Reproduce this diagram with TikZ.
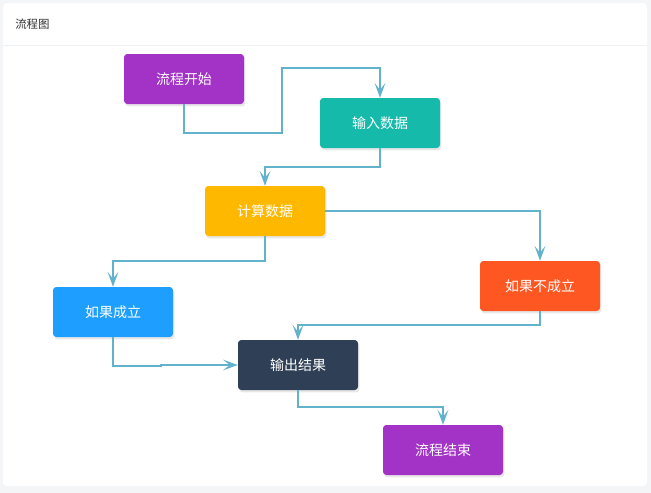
\documentclass[tikz,border=0pt]{standalone}
\usepackage{fontspec}
\newfontfamily\cjk{Noto Sans CJK SC}
\usetikzlibrary{arrows.meta,shadows}
\definecolor{Pagebg}{RGB}{244,245,247}
\definecolor{Rulec}{RGB}{240,241,243}
\definecolor{Titlec}{RGB}{51,51,51}
\definecolor{Linkc}{RGB}{97,178,202}
\definecolor{Pfill}{RGB}{162,51,198}
\definecolor{Tfill}{RGB}{22,186,170}
\definecolor{Yfill}{RGB}{255,184,0}
\definecolor{Bfill}{RGB}{30,159,255}
\definecolor{Ofill}{RGB}{255,87,34}
\definecolor{Dfill}{RGB}{47,64,86}

\begin{document}
\begin{tikzpicture}[x=0.75pt,y=-0.75pt,line cap=butt,line join=miter,
  box/.style={rectangle,rounded corners=2.5pt,minimum width=90pt,minimum height=37.5pt,
    inner sep=0pt,text=white,font=\cjk\fontsize{10.5}{12}\selectfont,
    drop shadow={opacity=0.18,shadow xshift=1pt,shadow yshift=-1.8pt}},
  link/.style={draw=Linkc,line width=1.5pt,-{Stealth[length=11pt,width=8pt,inset=5pt]}}]
\path[use as bounding box,fill=Pagebg] (0,0) rectangle (651,493);
\fill[white,rounded corners=3pt] (3,3) rectangle (647,486);
\draw[Rulec,line width=0.75pt] (3,45) -- (647,45);
\node[anchor=west,inner sep=0pt,text=Titlec,font=\cjk\fontsize{8.6}{10}\selectfont] (title) at (15,24) {流程图};
% boxes
\node[box,fill=Pfill] (start) at (184,79) {流程开始};
\node[box,fill=Tfill] (input) at (380,123) {输入数据};
\node[box,fill=Yfill] (calc) at (265,211) {计算数据};
\node[box,fill=Bfill] (ok) at (113,312) {如果成立};
\node[box,fill=Ofill] (notok) at (540,286) {如果不成立};
\node[box,fill=Dfill] (output) at (298,365) {输出结果};
\node[box,fill=Pfill] (finish) at (443,450) {流程结束};
% connectors
\draw[link] (start.south) |- (282,133) |- (380,68) -- (input.north);
\draw[link] (input.south) |- (265,167) -- (calc.north);
\draw[link] (calc.east) -| (notok.north);
\draw[link] (calc.south) |- (113,261) -- (ok.north);
\draw[link] (notok.south) |- (298,325) -- (output.north);
\draw[link] (ok.south) |- (161,366) |- (output.west);
\draw[link] (output.south) |- (443,407) -- (finish.north);
\end{tikzpicture}
\end{document}
